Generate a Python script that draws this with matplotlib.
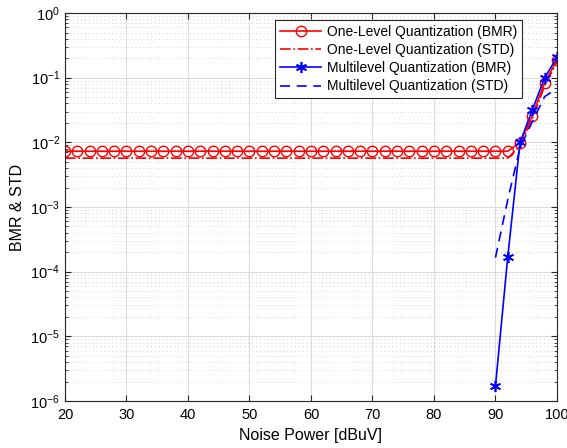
import numpy as np
import matplotlib
matplotlib.use('Agg')
import matplotlib.pyplot as plt
from matplotlib.ticker import LogLocator, NullFormatter

plt.rcParams['font.family'] = ['Liberation Sans', 'DejaVu Sans']

# noise power axis (dBuV)
noise_one = np.arange(20, 101, 2)
noise_multi = np.array([90, 92, 94, 96, 98, 100])

# one-level quantization
one_bmr = [7.3e-3] * 37 + [9.9e-3, 2.6e-2, 8.4e-2, 1.87e-1]
one_std = [5.7e-3] * 37 + [8.8e-3, 2.3e-2, 7.5e-2, 1.75e-1]

# multilevel quantization
multi_bmr = [1.7e-6, 1.7e-4, 1.0e-2, 3.2e-2, 1.0e-1, 2.06e-1]
multi_std = [1.65e-4, 1.3e-3, 8.3e-3, 2.1e-2, 5.1e-2, 6.8e-2]

labels = ['One-Level Quantization (BMR)', 'One-Level Quantization (STD)',
          'Multilevel Quantization (BMR)', 'Multilevel Quantization (STD)']

fig = plt.figure(figsize=(5.67, 4.48), dpi=100)
ax = fig.add_axes([0.1146, 0.1049, 0.8677, 0.866])

ax.semilogy(noise_one, one_bmr, color='red', lw=1.2, marker='o', ms=7.5,
            mfc='none', mew=1.0, label=labels[0])
ax.semilogy(noise_one, one_std, color='red', lw=1.2, ls='-.', label=labels[1])
ax.semilogy(noise_multi, multi_bmr, color='blue', lw=1.2, marker=(6, 2, 0), ms=8,
            mew=1.2, label=labels[2])
ax.semilogy(noise_multi, multi_std, color='blue', lw=1.2, ls=(0, (6, 4)), label=labels[3])

ax.set_xlim(20, 100)
ax.set_ylim(1e-6, 1)
ax.set_xticks(np.arange(20, 101, 10))
ax.yaxis.set_major_locator(LogLocator(base=10, numticks=10))
ax.yaxis.set_minor_locator(LogLocator(base=10, subs=np.arange(2, 10), numticks=20))
ax.yaxis.set_minor_formatter(NullFormatter())

ax.grid(True, which='major', color='#dcdcdc', lw=0.8, ls='-')
ax.grid(True, which='minor', axis='y', color='#d0d0d0', lw=0.7, ls=(0, (1, 3)))
ax.set_axisbelow(True)

ax.tick_params(which='both', direction='in', top=True, right=True, labelsize=10.5,
               color='#262626')
ax.tick_params(which='major', length=4)
ax.tick_params(axis='x', which='major', pad=5)
ax.tick_params(which='minor', length=2.5)
for s in ax.spines.values():
    s.set_color('#262626')
    s.set_linewidth(0.8)

ax.set_xlabel('Noise Power [dBuV]', fontsize=11.5, labelpad=4)
ax.set_ylabel('BMR & STD', fontsize=11.5, labelpad=4)

leg = ax.legend(loc='upper right', bbox_to_anchor=(0.929, 0.982), borderaxespad=0,
                fontsize=10, fancybox=False, framealpha=1, edgecolor='#262626',
                handlelength=3.0, borderpad=0.35, labelspacing=0.3, handletextpad=0.4)
leg.get_frame().set_linewidth(0.8)

plt.savefig('out.png', dpi=100)
